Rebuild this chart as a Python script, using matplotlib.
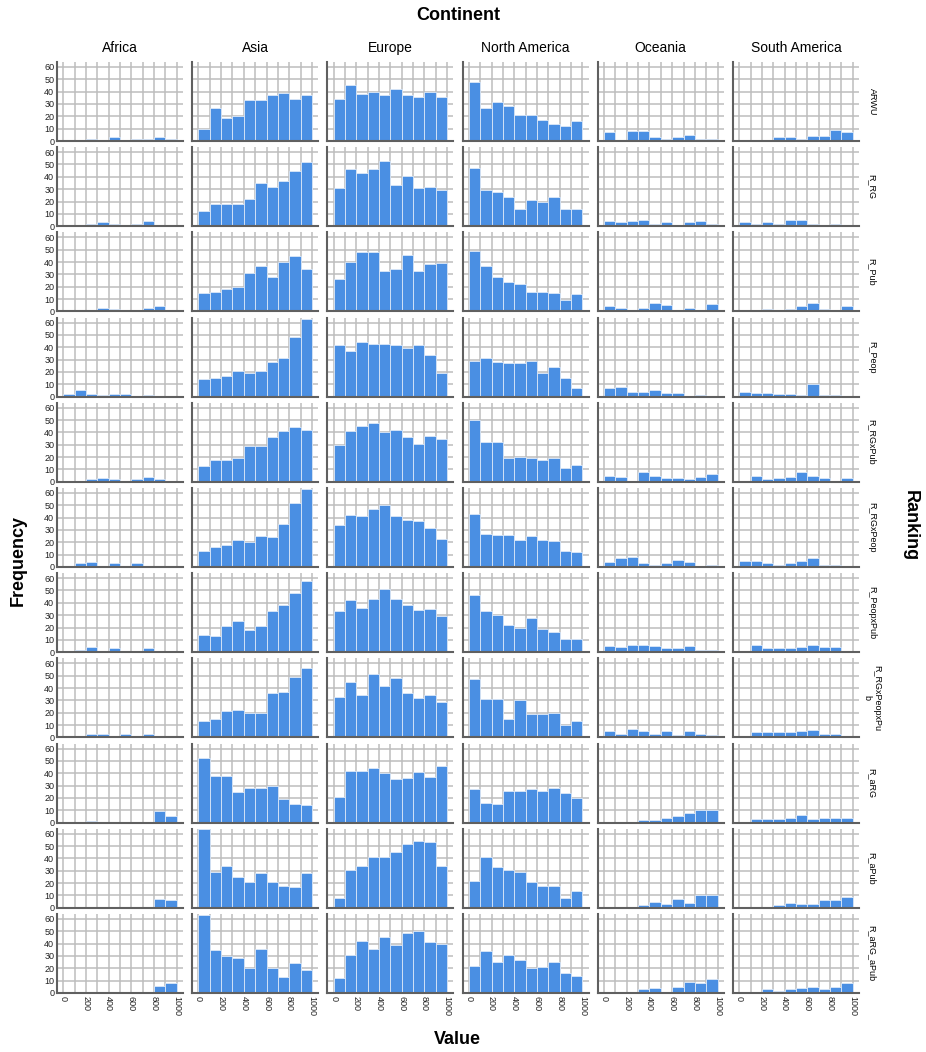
import numpy as np
import matplotlib
matplotlib.use("Agg")
import matplotlib.pyplot as plt

plt.rcParams['font.family'] = ['Liberation Sans', 'DejaVu Sans']

# 数据：各大洲 × 各排名指标的直方图计数（每组10个区间，0-1000）
continents = ['Africa', 'Asia', 'Europe', 'North America', 'Oceania', 'South America']
rankings = ['ARWU', 'R_RG', 'R_Pub', 'R_Peop', 'R_RGxPub', 'R_RGxPeop',
            'R_PeopxPub', 'R_RGxPeopxPu\nb', 'R_aRG', 'R_aPub', 'R_aRG_aPub']
bin_edges = [0, 100, 200, 300, 400, 500, 600, 700, 800, 900, 1000]

africa = [
    [0, 0, 2, 1, 3, 0, 2, 2, 3, 2],
    [0, 0, 2, 3, 2, 1, 2, 4, 1, 0],
    [0, 0, 1, 3, 2, 1, 1, 3, 4, 0],
    [2, 5, 2, 1, 2, 2, 0, 1, 0, 0],
    [0, 0, 2, 3, 2, 0, 2, 4, 2, 0],
    [0, 3, 4, 0, 3, 1, 3, 1, 0, 0],
    [0, 2, 4, 1, 3, 1, 1, 3, 0, 0],
    [0, 1, 3, 3, 1, 3, 1, 3, 0, 0],
    [0, 0, 1, 0, 0, 0, 0, 0, 9, 5],
    [0, 0, 0, 0, 0, 1, 0, 1, 7, 6],
    [0, 0, 0, 0, 1, 0, 0, 0, 6, 8],
]
asia = [
    [10, 27, 19, 20, 33, 33, 37, 39, 34, 37],
    [12, 18, 18, 18, 22, 35, 32, 37, 45, 52],
    [15, 16, 18, 20, 31, 37, 28, 40, 45, 34],
    [14, 15, 17, 21, 19, 21, 28, 31, 48, 63],
    [13, 18, 18, 19, 29, 29, 36, 41, 44, 42],
    [13, 16, 18, 22, 20, 25, 24, 35, 52, 63],
    [14, 13, 21, 25, 18, 21, 33, 38, 48, 58],
    [13, 15, 21, 22, 20, 20, 36, 37, 49, 56],
    [52, 38, 38, 25, 28, 28, 30, 19, 15, 14],
    [64, 29, 34, 25, 21, 28, 21, 18, 17, 28],
    [63, 35, 30, 28, 20, 36, 20, 13, 24, 19],
]
europe = [
    [34, 45, 38, 40, 37, 42, 37, 36, 40, 36],
    [31, 46, 43, 46, 53, 33, 41, 31, 32, 29],
    [26, 40, 48, 48, 33, 34, 46, 33, 38, 39],
    [42, 37, 44, 43, 43, 42, 39, 42, 34, 19],
    [30, 41, 45, 48, 40, 42, 36, 31, 37, 35],
    [34, 42, 41, 47, 50, 41, 38, 37, 32, 23],
    [33, 42, 36, 43, 51, 43, 38, 34, 35, 29],
    [33, 45, 34, 51, 42, 48, 36, 32, 34, 29],
    [21, 42, 42, 44, 40, 35, 36, 41, 37, 46],
    [8, 31, 34, 41, 41, 45, 52, 54, 53, 34],
    [12, 31, 42, 36, 45, 39, 49, 50, 41, 40],
]
north_america = [
    [48, 27, 32, 28, 21, 21, 17, 14, 12, 16],
    [47, 29, 28, 24, 14, 21, 20, 24, 14, 14],
    [49, 37, 28, 24, 22, 16, 16, 15, 9, 14],
    [29, 31, 28, 27, 27, 29, 19, 24, 15, 7],
    [50, 32, 32, 19, 20, 19, 18, 19, 11, 14],
    [43, 27, 26, 26, 22, 25, 22, 21, 13, 12],
    [46, 33, 30, 22, 20, 28, 19, 16, 11, 11],
    [47, 31, 31, 15, 30, 19, 19, 20, 10, 13],
    [27, 16, 15, 26, 26, 27, 26, 28, 24, 20],
    [22, 41, 33, 31, 29, 21, 18, 18, 8, 14],
    [22, 34, 25, 31, 27, 20, 21, 25, 16, 14],
]
oceania = [
    [7, 1, 8, 8, 3, 2, 3, 5, 2, 2],
    [4, 3, 4, 5, 2, 3, 1, 3, 4, 2],
    [4, 3, 0, 3, 7, 5, 0, 3, 1, 6],
    [7, 8, 4, 4, 5, 3, 3, 0, 1, 0],
    [5, 4, 0, 8, 5, 3, 3, 2, 4, 6],
    [4, 7, 8, 3, 2, 3, 6, 4, 1, 2],
    [5, 4, 6, 6, 5, 3, 3, 5, 2, 2],
    [5, 3, 7, 5, 3, 5, 2, 5, 3, 2],
    [0, 0, 0, 2, 2, 4, 5, 8, 10, 10],
    [0, 0, 0, 2, 5, 3, 7, 4, 10, 10],
    [0, 0, 0, 3, 4, 1, 5, 9, 8, 11],
]
south_america = [
    [0, 1, 1, 3, 3, 2, 4, 4, 9, 7],
    [3, 2, 3, 2, 5, 5, 2, 0, 2, 1],
    [1, 1, 2, 0, 2, 4, 7, 2, 1, 4],
    [4, 3, 3, 2, 2, 1, 10, 1, 1, 0],
    [1, 5, 2, 3, 4, 8, 5, 3, 0, 3],
    [5, 5, 3, 2, 3, 5, 7, 2, 2, 0],
    [1, 6, 3, 3, 3, 4, 6, 4, 4, 0],
    [1, 4, 4, 4, 4, 5, 6, 3, 3, 0],
    [0, 3, 3, 3, 4, 6, 3, 4, 4, 4],
    [1, 0, 0, 2, 4, 3, 3, 6, 6, 9],
    [1, 0, 3, 2, 3, 4, 5, 3, 5, 8],
]
counts = [africa, asia, europe, north_america, oceania, south_america]

BAR_COLOR = '#4a8fe3'
GRID_COLOR = '#bdbdbd'
SPINE_COLOR = '#606060'

W, H = 926, 1052
fig = plt.figure(figsize=(W / 100, H / 100), dpi=100)

# 面板布局（像素）
x0, dx, pw = 57, 135.2, 126
y0, dy, ph = 62, 85.2, 79

edges = np.array(bin_edges)
n_rows = len(rankings)

for c, cont in enumerate(continents):
    for r, rank in enumerate(rankings):
        left = (x0 + c * dx) / W
        bottom = 1 - (y0 + r * dy + ph) / H
        ax = fig.add_axes([left, bottom, pw / W, ph / H])
        ax.bar(edges[:-1], counts[c][r], width=np.diff(edges), align='edge',
               color=BAR_COLOR, edgecolor='#dce8f8', linewidth=0.6, zorder=2)
        ax.set_xlim(-55, 1055)
        ax.set_ylim(0, 64)
        ax.set_xticks(np.arange(0, 1001, 100))
        ax.set_yticks(np.arange(0, 61, 10))
        ax.grid(True, color=GRID_COLOR, linewidth=1.1, zorder=0)
        ax.set_axisbelow(True)
        for s in ['top', 'right']:
            ax.spines[s].set_visible(False)
        for s in ['left', 'bottom']:
            ax.spines[s].set_color(SPINE_COLOR)
            ax.spines[s].set_linewidth(1.5)
        ax.tick_params(length=0, pad=2, labelsize=6.5, colors='#222222')
        if c == 0:
            ax.set_yticklabels([str(v) for v in range(0, 61, 10)])
        else:
            ax.set_yticklabels([])
        if r == n_rows - 1:
            ax.set_xticklabels([str(v) if v % 200 == 0 else '' for v in range(0, 1001, 100)],
                               rotation=-90)
        else:
            ax.set_xticklabels([])
        if r == 0:
            ax.set_title(cont, fontsize=10, pad=7)
        if c == len(continents) - 1:
            ax.text(1 + 13 / pw, 0.5, rank, transform=ax.transAxes, rotation=-90,
                    ha='center', va='center', fontsize=6.5, multialignment='center')

fig.text(458 / W, 1 - 15 / H, 'Continent', ha='center', va='center',
         fontsize=13, fontweight='bold')
fig.text(457 / W, 1 - 1040 / H, 'Value', ha='center', va='center',
         fontsize=13, fontweight='bold')
fig.text(18 / W, 1 - 560 / H, 'Frequency', ha='center', va='center',
         rotation=90, fontsize=13, fontweight='bold')
fig.text(910 / W, 1 - 526 / H, 'Ranking', ha='center', va='center',
         rotation=-90, fontsize=13, fontweight='bold')

fig.savefig('out.png', dpi=100, facecolor='white')
